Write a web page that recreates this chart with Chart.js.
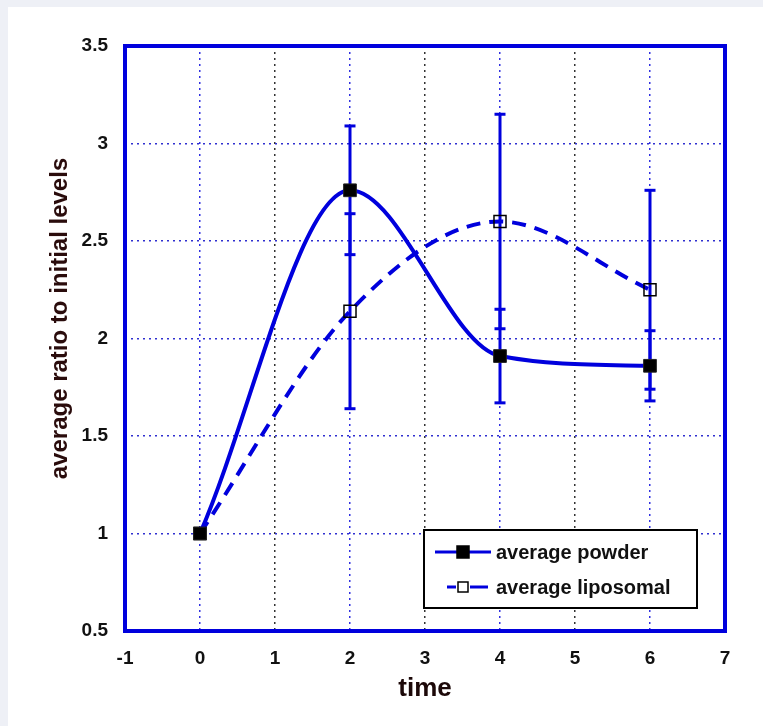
<!DOCTYPE html>
<html>
<head>
<meta charset="utf-8">
<script src="https://cdn.jsdelivr.net/npm/chart.js@4.4.1/dist/chart.umd.min.js"></script>
<style>
    html, body { margin: 0; padding: 0; background: #eef0f6; }
    .panel { position: absolute; left: 8px; top: 7px; width: 755px; height: 719px; background: #fff; }
    canvas { display: block; }
</style>
</head>
<body>
<div class="panel"><canvas id="myChart" width="755" height="719"></canvas></div>
<script>
// data
const times = [0, 2, 4, 6];
const powderValues = [1, 2.76, 1.91, 1.86];
const powderErrors = [0, 0.33, 0.24, 0.18];
const liposomalValues = [1, 2.14, 2.60, 2.25];
const liposomalErrors = [0, 0.50, 0.55, 0.51];
const xTicks = [-1, 0, 1, 2, 3, 4, 5, 6, 7];
const yTicks = [0.5, 1, 1.5, 2, 2.5, 3, 3.5];

const BLUE = '#0000dd';
const FONT = "'Liberation Sans', Arial, sans-serif";

function toPoints(values) {
    return times.map((t, i) => ({ x: t, y: values[i] }));
}

function errorBarSets(values, errors) {
    let sets = [];
    times.forEach((t, i) => {
        if (!errors[i]) return;
        sets.push({
            label: '',
            isErrorBar: true,
            data: [{ x: t, y: values[i] - errors[i] }, { x: t, y: values[i] + errors[i] }],
            showLine: true,
            borderColor: BLUE,
            borderWidth: 3,
            pointStyle: 'line',
            pointRadius: 5.5,
            pointBorderWidth: 3,
            pointBorderColor: BLUE,
            order: 2
        });
    });
    return sets;
}

const frame = {
    id: 'frame',
    afterDatasetsDraw(chart) {
        const a = chart.chartArea;
        const ctx = chart.ctx;
        ctx.save();
        ctx.strokeStyle = BLUE;
        ctx.lineWidth = 4;
        ctx.strokeRect(a.left, a.top, a.right - a.left, a.bottom - a.top);
        ctx.restore();
    }
};

const boxLegend = {
    id: 'boxLegend',
    afterDraw(chart) {
        const a = chart.chartArea;
        const ctx = chart.ctx;
        const w = 273, h = 78;
        const x0 = a.right - 28 - w;
        const y0 = a.bottom - 23 - h;
        const items = chart.data.datasets.filter(d => !d.isErrorBar);

        ctx.save();
        ctx.fillStyle = '#fff';
        ctx.fillRect(x0, y0, w, h);
        ctx.strokeStyle = '#000';
        ctx.lineWidth = 2;
        ctx.strokeRect(x0, y0, w, h);

        items.forEach((d, i) => {
            const cy = y0 + 22 + i * 35;
            const cx = x0 + 39;
            ctx.strokeStyle = d.borderColor;
            ctx.lineWidth = 3;
            ctx.setLineDash([]);
            ctx.beginPath();
            if (d.borderDash) {
                ctx.moveTo(x0 + 23, cy); ctx.lineTo(cx - 7, cy);
                ctx.moveTo(cx + 7, cy); ctx.lineTo(x0 + 64, cy);
            } else {
                ctx.moveTo(x0 + 11, cy); ctx.lineTo(x0 + 67, cy);
            }
            ctx.stroke();

            const s = i === 0 ? 12 : 10;
            if (d.pointBackgroundColor !== 'transparent') {
                ctx.fillStyle = d.pointBackgroundColor;
                ctx.fillRect(cx - s / 2, cy - s / 2, s, s);
            }
            ctx.strokeStyle = '#000';
            ctx.lineWidth = 1.5;
            ctx.strokeRect(cx - s / 2, cy - s / 2, s, s);

            ctx.fillStyle = '#111';
            ctx.font = 'bold 20px ' + FONT;
            ctx.textBaseline = 'middle';
            ctx.fillText(d.label, x0 + 72, cy + 1);
        });
        ctx.restore();
    }
};

const ctx = document.getElementById('myChart');

new Chart(ctx, {
    type: 'scatter',
    data: {
        datasets: [
            {
                label: 'average powder',
                data: toPoints(powderValues),
                showLine: true,
                cubicInterpolationMode: 'monotone',
                borderColor: BLUE,
                borderWidth: 4,
                pointStyle: 'rect',
                pointRadius: 9,
                pointBackgroundColor: '#000',
                pointBorderColor: '#222',
                pointBorderWidth: 1,
                order: 0
            },
            {
                label: 'average liposomal',
                data: toPoints(liposomalValues),
                showLine: true,
                cubicInterpolationMode: 'monotone',
                borderColor: BLUE,
                borderWidth: 4,
                borderDash: [14, 9],
                pointStyle: 'rect',
                pointRadius: 8.5,
                pointBackgroundColor: 'transparent',
                pointBorderColor: '#000',
                pointBorderWidth: 1.5,
                order: 1
            },
            ...errorBarSets(powderValues, powderErrors),
            ...errorBarSets(liposomalValues, liposomalErrors)
        ]
    },
    options: {
        responsive: false,
        animation: false,
        layout: { padding: { left: 0, top: 39, right: 38, bottom: 0 } },
        plugins: {
            legend: { display: false },
            tooltip: { enabled: false }
        },
        scales: {
            x: {
                type: 'linear',
                min: -1,
                max: 7,
                afterBuildTicks: (scale) => { scale.ticks = xTicks.map(v => ({ value: v })); },
                afterFit: (scale) => { scale.height = 95; },
                grid: {
                    drawTicks: false,
                    lineWidth: 1.5,
                    color: (c) => (c.tick && Math.abs(c.tick.value) % 2 === 1) ? '#333' : '#3030e0'
                },
                border: { display: false, dash: [2, 4] },
                ticks: {
                    padding: 16,
                    color: '#111',
                    callback: (v) => String(v),
                    font: { family: FONT, size: 19, weight: 'bold' }
                },
                title: {
                    display: true,
                    text: 'time',
                    color: '#1c0808',
                    padding: { top: 0, bottom: 22 },
                    font: { family: FONT, size: 26, weight: 'bold' }
                }
            },
            y: {
                min: 0.5,
                max: 3.5,
                afterBuildTicks: (scale) => { scale.ticks = yTicks.map(v => ({ value: v })); },
                afterFit: (scale) => { scale.width = 117; },
                grid: {
                    drawTicks: false,
                    lineWidth: 1.5,
                    color: '#3030d0'
                },
                border: { display: false, dash: [2, 4] },
                ticks: {
                    padding: 17,
                    color: '#111',
                    callback: (v) => String(v),
                    font: { family: FONT, size: 19, weight: 'bold' }
                },
                title: {
                    display: true,
                    text: '      average ratio to initial levels',
                    color: '#2a0c0c',
                    padding: { top: 38, bottom: 0 },
                    font: { family: FONT, size: 24, weight: 'bold' }
                }
            }
        }
    },
    plugins: [frame, boxLegend]
});
</script>
</body>
</html>
